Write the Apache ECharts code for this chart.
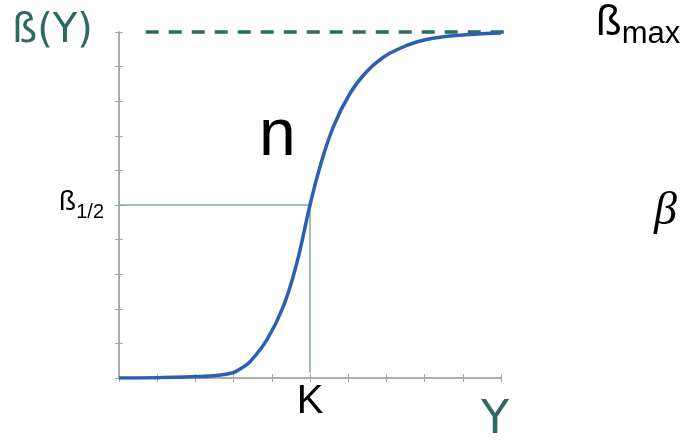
<!DOCTYPE html>
<html>
<head>
<meta charset="utf-8">
<script src="https://cdn.jsdelivr.net/npm/echarts@6/dist/echarts.min.js"></script>
<style>
  html, body { margin: 0; padding: 0; background: #ffffff; }
  #chart { width: 685px; height: 446px; }
</style>
</head>
<body>
<div id="chart"></div>
<script>
// Saturation curve: response ß as a fraction of ßmax versus ligand Y
const curveX = [0, 1.0, 2.1, 2.6, 3.0, 3.2, 3.43, 3.87, 4.3, 4.65, 5.0, 5.26, 5.61, 6.05, 6.48, 6.92, 7.36, 7.79, 8.22, 9.1, 10.0];
const curveY = [0, 0.001, 0.004, 0.008, 0.016, 0.028, 0.047, 0.11, 0.206, 0.33, 0.5, 0.61, 0.726, 0.823, 0.885, 0.927, 0.953, 0.971, 0.982, 0.992, 0.997];

// Half-saturation point (K, ß1/2) and the ßmax asymptote
const halfK = 5;
const halfBeta = 0.5;
const guideBottom = 0.015;
const betaMax = 1;
const maxLineX = [0.7, 11.9];

// Axis extents and the only tick labels shown
const xRange = [0, 10];
const yRange = [0, 1];
const xTickLabels = { 5: 'K' };
const yTickLabels = { 0.5: '{b|ß}{s|1/2}' };

const teal = '#2d6a62';
const guide = '#7fa9a4';
const frame = '#a6a6a6';

const chart = echarts.init(document.getElementById('chart'), null, { renderer: 'canvas' });

const frameAxis = {
  type: 'value',
  axisLine: { show: true, lineStyle: { color: frame, width: 1.5 } },
  axisTick: { show: true, inside: true, length: 4, lineStyle: { color: frame, width: 1 } },
  splitLine: { show: false },
  axisLabel: { show: false }
};

chart.setOption({
  animation: false,
  backgroundColor: '#ffffff',
  grid: { left: 119, top: 32, right: 184, bottom: 68, containLabel: false },
  xAxis: [
    Object.assign({}, frameAxis, {
      position: 'bottom', min: xRange[0], max: xRange[1], interval: 1,
      axisLabel: {
        show: true, margin: 4, interval: 0,
        fontFamily: 'Liberation Sans', fontSize: 40, color: '#000',
        formatter: v => xTickLabels[v] || ''
      }
    }),
    Object.assign({}, frameAxis, { position: 'top', min: xRange[0], max: xRange[1], interval: 1 })
  ],
  yAxis: [
    Object.assign({}, frameAxis, {
      position: 'left', min: yRange[0], max: yRange[1], interval: 0.1,
      axisLabel: {
        show: true, margin: 15, interval: 0,
        formatter: v => yTickLabels[Math.round(v * 10) / 10] || '',
        rich: {
          b: { fontFamily: 'Liberation Sans', fontSize: 28, color: '#000', padding: [0, 0, 6, 0] },
          s: { fontFamily: 'Liberation Sans', fontSize: 20, color: '#000', padding: [14, 0, 0, 0] }
        }
      }
    }),
    Object.assign({}, frameAxis, { position: 'right', min: yRange[0], max: yRange[1], interval: 0.1 })
  ],
  series: [
    {
      type: 'line',
      data: [[0, halfBeta], [halfK, halfBeta], [halfK, guideBottom]],
      symbol: 'none',
      lineStyle: { color: guide, width: 1.5 },
      z: 2
    },
    {
      type: 'line',
      data: [[maxLineX[0], betaMax], [maxLineX[1], betaMax]],
      symbol: 'none',
      clip: false,
      lineStyle: { color: teal, width: 3.5, type: [13, 10] },
      z: 3
    },
    {
      type: 'line',
      data: curveX.map((x, i) => [x, curveY[i]]),
      smooth: 0.4,
      symbol: 'none',
      lineStyle: { color: '#2b5fb4', width: 3.5 },
      z: 4
    }
  ],
  graphic: [
    { type: 'text', left: 12, top: 12,
      style: { text: 'ß(Y)', fontFamily: 'DejaVu Sans', fontSize: 40, fill: teal } },
    { type: 'text', left: 596, top: 2,
      style: { text: '{b|ß}{s|max}', rich: {
        b: { fontFamily: 'Liberation Sans', fontSize: 42, fill: '#000' },
        s: { fontFamily: 'Liberation Sans', fontSize: 31, fill: '#000', padding: [22, 0, 0, 0] }
      } } },
    { type: 'text', left: 259, top: 104,
      style: { text: 'n', fontFamily: 'Liberation Sans', fontSize: 66, fill: '#000' } },
    { type: 'text', left: 654, top: 189,
      style: { text: 'β', fontFamily: 'Liberation Serif', fontStyle: 'italic', fontSize: 46, fill: '#000' } },
    { type: 'text', left: 481, top: 398,
      style: { text: 'Y', fontFamily: 'DejaVu Sans', fontSize: 46, fill: teal } }
  ]
});
</script>
</body>
</html>
